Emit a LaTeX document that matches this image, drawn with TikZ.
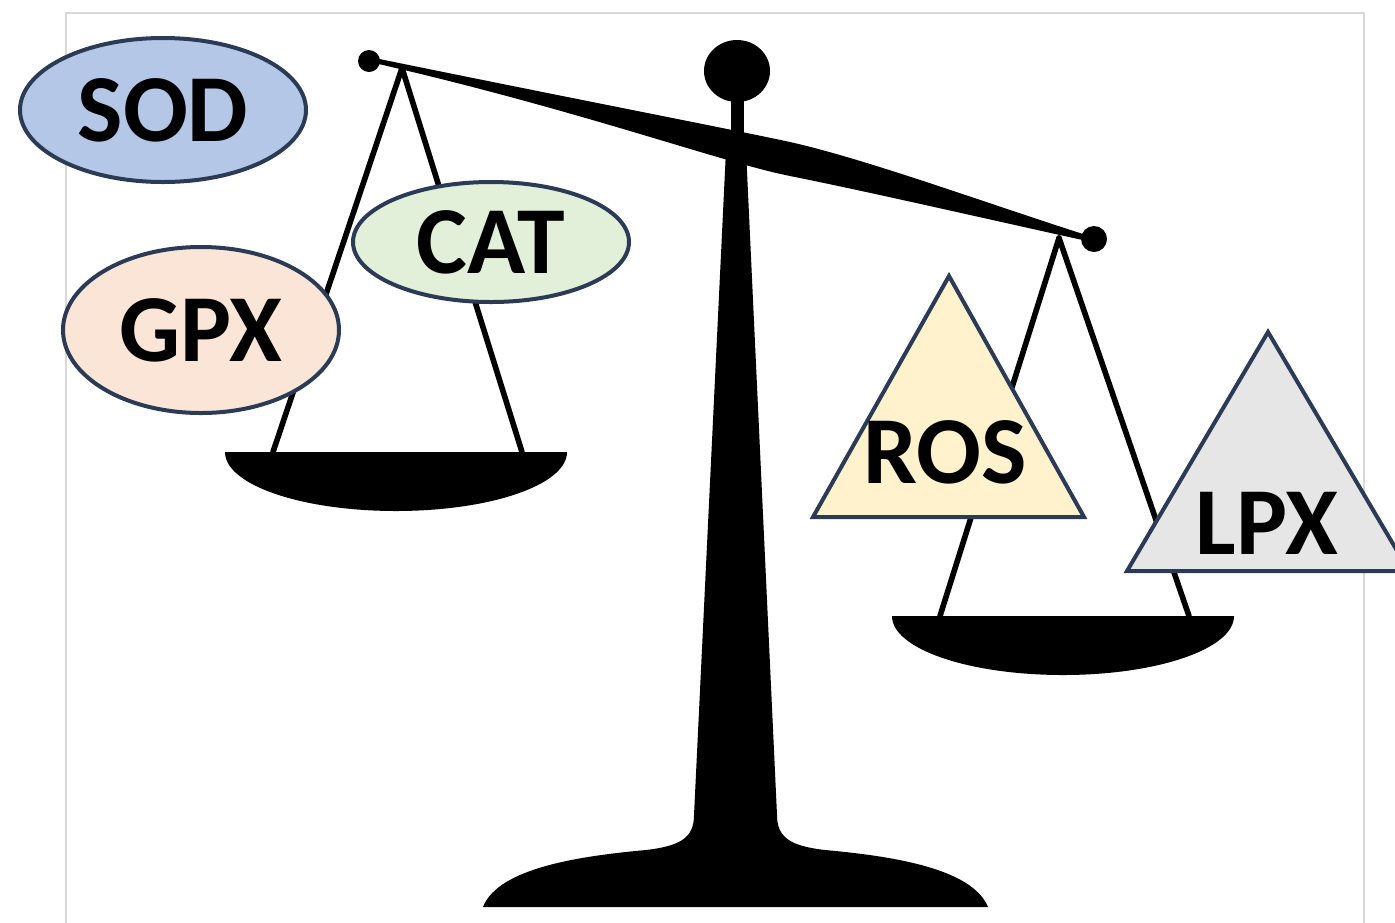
\documentclass[tikz,border=0pt]{standalone}
\usepackage{fontspec}
\setmainfont{Carlito}
\usetikzlibrary{shapes.geometric}
\definecolor{outline}{HTML}{2B3A55}
\definecolor{sodfill}{HTML}{B4C7E7}
\definecolor{catfill}{HTML}{E2F0D9}
\definecolor{gpxfill}{HTML}{FBE5D6}
\definecolor{rosfill}{HTML}{FFF2CC}
\definecolor{lpxfill}{HTML}{E7E6E6}
\definecolor{framegray}{HTML}{D9D9D9}
\tikzset{word/.style={font=\fontsize{48}{48}\selectfont\bfseries, inner sep=0pt},
enzyme/.style={ellipse, draw=outline, line width=2pt, word},
oxidant/.style={draw=outline, line width=2pt},
cord/.style={line width=2.8pt, line cap=round},
frameline/.style={draw=framegray, line width=1pt}}

\begin{document}
\begin{tikzpicture}[x=0.5pt,y=-0.5pt]
  \useasboundingbox (0,0) rectangle (1395,922);
  \draw [frameline] (66,930) -- (66,13) -- (1364,13) -- (1364,930);

  % pans and their cords
  \foreach \side/\hx/\hy/\px/\py in {l/402/68/396/452, r/1059/238/1063/616} {
    \coordinate (\side hook) at (\hx,\hy);
    \coordinate (\side foot1) at (\px-123,\py);
    \coordinate (\side foot2) at (\px+126,\py);
    \draw [cord] (\side hook) -- (\side foot1);
    \draw [cord] (\side hook) -- (\side foot2);
    \fill (\px-171,\py) .. controls (\px-171,\py+33) and (\px-94,\py+59) .. (\px,\py+59)
      .. controls (\px+94,\py+59) and (\px+171,\py+33) .. (\px+171,\py) -- cycle;
  }

  % beam, knob and stand
  \fill (372,57.5) .. controls (580,100) and (720,127) .. (790,142)
    .. controls (870,160) and (1000,208) .. (1094,237.5) -- (1094,242.5)
    .. controls (1000,222) and (870,192) .. (790,176)
    .. controls (720,162) and (580,110) .. (372,62.5) -- cycle;
  \fill (369,61) circle [radius=11];
  \fill (1094,239) circle [radius=13];
  \fill (737,71) ellipse [x radius=33, y radius=31];
  \fill (731,95) rectangle (744,140);
  \fill (726,150) -- (746,150) -- (777,815) .. controls (777,838) and (791,846) .. (825,850)
    .. controls (891,856) and (972,868) .. (988,907) -- (483,907)
    .. controls (498,868) and (580,856) .. (646,850)
    .. controls (680,846) and (694,838) .. (694,815) -- cycle;

  \node (sod) [enzyme, fill=sodfill, minimum width=143pt, minimum height=72pt] at (163,110) {SOD};
  \node (cat) [enzyme, fill=catfill, minimum width=138pt, minimum height=60pt] at (491,242) {CAT};
  \node (gpx) [enzyme, fill=gpxfill, minimum width=138pt, minimum height=83pt] at (201,330) {GPX};

  \draw [oxidant, fill=rosfill] (949,276) -- (1084,517) -- (813,517) -- cycle;
  \draw [oxidant, fill=lpxfill] (1268,332) -- (1409,571) -- (1127,571) -- cycle;
  \node (ros) [word] at (945,452) {ROS};
  \node (lpx) [word] at (1267,523) {LPX};
\end{tikzpicture}
\end{document}
